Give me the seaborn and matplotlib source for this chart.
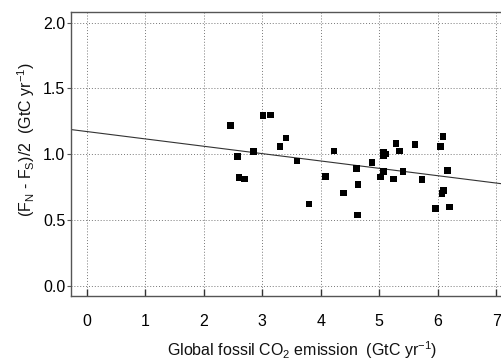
import numpy as np
import pandas as pd
import matplotlib
matplotlib.use("Agg")
import matplotlib.pyplot as plt
import seaborn as sns

# Data
emission = [2.46, 2.58, 2.60, 2.70, 2.85, 3.01, 3.14, 3.30, 3.41, 3.59,
            3.80, 4.08, 4.23, 4.39, 4.61, 4.64, 4.63, 4.88, 5.02, 5.07,
            5.07, 5.11, 5.07, 5.24, 5.29, 5.35, 5.41, 5.61, 5.73, 5.96,
            6.05, 6.09, 6.07, 6.10, 6.17, 6.20]
flux_diff = [1.218, 0.982, 0.823, 0.813, 1.023, 1.294, 1.299, 1.058, 1.124, 0.949,
             0.623, 0.833, 1.025, 0.706, 0.894, 0.770, 0.539, 0.939, 0.828, 1.013,
             0.992, 1.003, 0.868, 0.813, 1.084, 1.025, 0.868, 1.076, 0.810, 0.587,
             1.061, 1.134, 0.704, 0.724, 0.878, 0.600]
x_ticks = [0, 1, 2, 3, 4, 5, 6, 7]
y_ticks = [0.0, 0.5, 1.0, 1.5, 2.0]

df = pd.DataFrame({"emission": emission, "flux": flux_diff})

sns.set_theme(style="white")
plt.rcParams["font.family"] = ["Liberation Sans", "DejaVu Sans"]
plt.rcParams["mathtext.default"] = "regular"

fig = plt.figure(figsize=(5.02, 3.60), dpi=100)
ax = fig.add_axes([71 / 502, 1 - 296 / 360, (512 - 71) / 502, (296 - 12) / 360])
ax.set_xlim(-0.27, 7.27)
ax.set_ylim(-0.076, 2.081)

sns.regplot(data=df, x="emission", y="flux", ax=ax, ci=None, truncate=False,
            marker="s",
            scatter_kws=dict(s=22, color="black", alpha=1, edgecolors="none", zorder=3),
            line_kws=dict(color="#333333", lw=0.8, zorder=2))

ax.set_xticks(x_ticks)
ax.set_yticks(y_ticks)
ax.set_yticklabels([f"{v:.1f}" for v in y_ticks])
ax.grid(True, linestyle=(0, (1, 2)), color="#777777", lw=0.7)
ax.set_axisbelow(True)

for s in ["left", "bottom", "top"]:
    ax.spines[s].set_color("#555555")
    ax.spines[s].set_linewidth(1.0)
ax.spines["right"].set_visible(False)

ax.tick_params(axis="x", direction="in", length=5, width=1, color="#333333",
               pad=13, labelsize=11.5, labelcolor="black", bottom=True)
ax.tick_params(axis="y", direction="out", length=3, width=0.8, color="#555555",
               pad=1, labelsize=11.5, labelcolor="black", left=True)

ax.set_xlabel("Global fossil CO$_2$ emission  (GtC yr$^{-1}$)", fontsize=11.5, color="#111111")
ax.set_ylabel("(F$_N$ - F$_S$)/2  (GtC yr$^{-1}$)", fontsize=11.5, color="#111111")
ax.xaxis.set_label_coords((302 - 71) / (512 - 71), -(339 - 296) / (296 - 12))
ax.yaxis.set_label_coords(-(71 - 37) / (512 - 71), (296 - 140) / (296 - 12))

fig.savefig("out.png", dpi=100)
